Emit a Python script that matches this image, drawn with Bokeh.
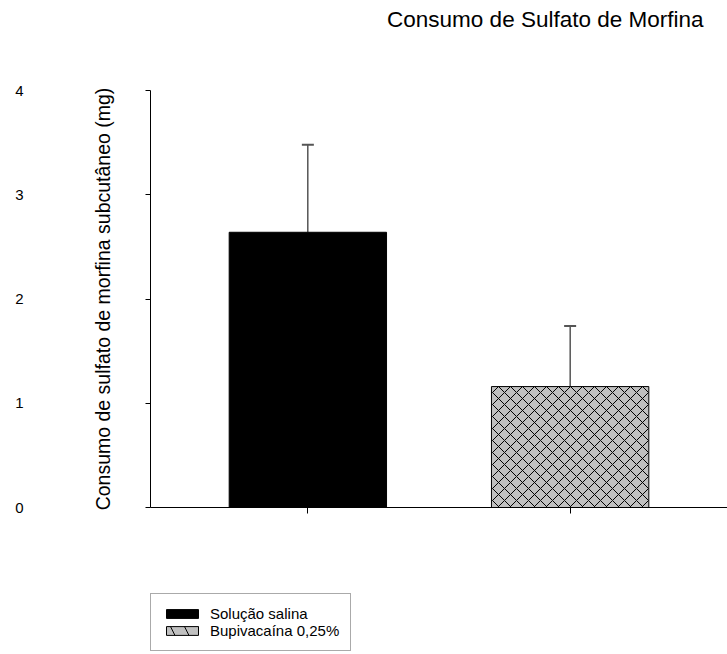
from bokeh.plotting import figure
from bokeh.layouts import column
from bokeh.models import (ColumnDataSource, Range1d, LinearAxis, FixedTicker,
                          Whisker, TeeHead, Legend, LegendItem)
from bokeh.embed import file_html
from bokeh.resources import INLINE

# ---- data ----
categories = ["Solução salina", "Bupivacaína 0,25%"]
means = [2.64, 1.16]
sd = [0.84, 0.58]
y_ticks = [0, 1, 2, 3, 4]
title_text = "Consumo de Sulfato de Morfina"
y_label = "Consumo de sulfato de morfina subcutâneo (mg)"

FONT = "Liberation Sans"
xpos = [i + 1 for i in range(len(categories))]

# ---- title strip ----
p0 = figure(width=727, height=80, output_backend="svg", toolbar_location=None,
            x_range=Range1d(0, 1), y_range=Range1d(0, 1),
            x_axis_location=None, y_axis_location=None,
            min_border_left=0, min_border_right=0, min_border_top=0,
            min_border_bottom=0)
p0.outline_line_color = None
p0.grid.visible = False
p0.border_fill_color = "white"
p0.background_fill_color = "white"
p0.title.text = title_text
p0.title.align = "right"
p0.title.vertical_align = "top"
p0.title.offset = 24
p0.title.standoff = 12
p0.title.text_font = FONT
p0.title.text_font_size = "22.5px"
p0.title.text_font_style = "normal"
p0.title.text_color = "black"

# ---- main chart ----
p = figure(width=727, height=447, output_backend="svg", toolbar_location=None,
           x_range=Range1d(0.4, 2.6), y_range=Range1d(0, 4),
           min_border_left=150, min_border_right=0, min_border_top=10,
           min_border_bottom=20)
p.outline_line_color = None
p.grid.visible = False
p.background_fill_color = "white"
p.border_fill_color = "white"

styles = [
    dict(fill_color="black", line_color="black"),
    dict(fill_color="#c0c0c0", line_color="black", hatch_pattern="x",
         hatch_color="black", hatch_scale=12, hatch_weight=1),
]
legend_styles = [
    dict(fill_color="black", line_color="black"),
    dict(fill_color="#c0c0c0", line_color="black", hatch_pattern="\\",
         hatch_color="black", hatch_scale=28, hatch_weight=1),
]
sources = []
for i, cat in enumerate(categories):
    src = ColumnDataSource(dict(x=[xpos[i]], top=[means[i]],
                                upper=[means[i] + sd[i]], lower=[means[i]]))
    sources.append(src)
    p.vbar(x="x", top="top", bottom=0, width=0.6, source=src, **styles[i])
    w = Whisker(source=src, base="x", upper="upper", lower="lower",
                line_color="black", line_width=1, lower_head=None,
                upper_head=TeeHead(size=12, line_color="#555555", line_width=2))
    p.add_layout(w)

# x axis
xa = p.xaxis[0]
xa.ticker = FixedTicker(ticks=xpos)
xa.major_label_text_alpha = 0
xa.major_label_text_font_size = "8px"
xa.major_label_standoff = 0
xa.major_tick_out = 6
xa.major_tick_in = 0
xa.minor_tick_line_color = None
xa.axis_line_color = "black"

# inner y axis (line, ticks, axis label)
ya = p.yaxis[0]
ya.ticker = FixedTicker(ticks=y_ticks)
ya.major_label_text_alpha = 0
ya.major_label_text_font_size = "11px"
ya.major_label_standoff = 0
ya.major_tick_out = 5
ya.major_tick_in = 0
ya.minor_tick_line_color = None
ya.axis_label = y_label
ya.axis_label_standoff = 32
ya.axis_label_text_font = FONT
ya.axis_label_text_font_size = "19.5px"
ya.axis_label_text_font_style = "normal"
ya.axis_label_text_color = "black"

# outer y axis: tick labels only
ya2 = LinearAxis(ticker=FixedTicker(ticks=y_ticks))
ya2.axis_line_color = None
ya2.major_tick_line_color = None
ya2.minor_tick_line_color = None
ya2.major_tick_out = 0
ya2.major_tick_in = 0
ya2.major_label_standoff = 65
ya2.major_label_text_font = FONT
ya2.major_label_text_font_size = "15px"
ya2.major_label_text_color = "black"
p.add_layout(ya2, "left")

# ---- legend strip below the chart ----
p2 = figure(width=727, height=127, output_backend="svg", toolbar_location=None,
            x_range=Range1d(10, 11), y_range=Range1d(10, 11),
            x_axis_location=None, y_axis_location=None,
            min_border_left=150, min_border_right=0, min_border_top=66,
            min_border_bottom=0)
p2.outline_line_color = None
p2.grid.visible = False
p2.border_fill_color = "white"
p2.background_fill_color = "white"
items = []
for i, cat in enumerate(categories):
    # same data as the bars, out of this strip's view: only its legend glyph shows
    r = p2.vbar(x="x", top="top", bottom=0, width=0.6, source=sources[i],
                **legend_styles[i])
    items.append(LegendItem(label=cat, renderers=[r]))
legend = Legend(items=items, location="top_left", orientation="vertical", margin=0,
                padding=11, spacing=0, glyph_width=40, glyph_height=11,
                label_height=15, label_standoff=8, label_text_font=FONT,
                label_text_font_size="15px", label_text_color="black",
                border_line_color="#555555", border_line_width=1,
                background_fill_color="white", background_fill_alpha=1)
p2.add_layout(legend)

layout = column(p0, p, p2, spacing=0)
open("out.html", "w").write(file_html(layout, INLINE))
